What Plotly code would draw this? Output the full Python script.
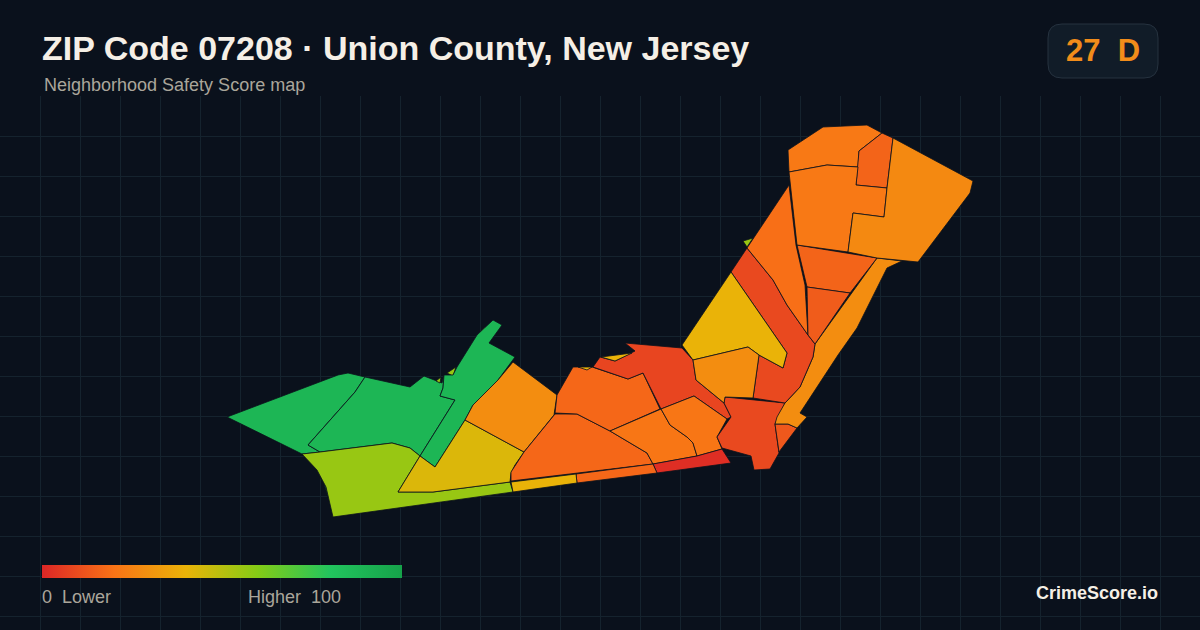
"""ZIP 07208 neighborhood safety score map card."""
import plotly.graph_objects as go
from plotly.colors import sample_colorscale

W, H, TOP = 1200, 630, 96

title_text = "ZIP Code 07208 · Union County, New Jersey"
subtitle_text = "Neighborhood Safety Score map"
badge_text = "27\u00a0\u00a0D"
brand_text = "CrimeScore.io"
legend_low = "0\u00a0\u00a0Lower"
legend_high = "Higher\u00a0\u00a0100"

score_stops = [0, 20, 40, 60, 80, 100]
score_colors = ["#dc2626", "#f97316", "#eab308", "#84cc16", "#22c55e", "#16a34a"]

tract_scores = [
    40, 56, 89, 89, 89, 89, 56, 56, 43, 28, 17, 17, 8, 40, 40, 21, 21, 2, 17, 40,
    9, 13, 28, 9, 40, 28, 19, 56, 16, 14, 22, 16, 22, 27,
]

# outlines, one per tract, back to front
tract_outlines = [
    [(478, 334), (485, 327), (487, 330), (480, 337)],
    [(447, 373), (456, 367), (453, 376)],
    [(227, 417), (338, 375), (348, 373), (365, 377), (355, 392), (308, 445), (320, 452), (302, 454)],
    [(365, 377), (410, 387), (424, 376), (442, 383), (444, 375), (443, 388), (440, 396), (455, 400),
     (420, 456), (410, 448), (392, 443), (320, 452), (308, 445), (355, 392)],
    [(493, 320), (502, 325), (489, 343), (515, 357), (498, 380), (473, 405), (465, 420), (435, 467),
     (420, 456), (455, 400), (440, 396), (443, 388), (444, 375), (453, 375), (457, 367), (477, 335)],
    [(316, 470), (324, 484), (330, 503), (326, 487)],
    [(436, 381), (441, 377), (440, 383)],
    [(302, 454), (320, 452), (392, 443), (410, 448), (420, 456), (398, 492), (413, 492), (433, 492),
     (510, 482), (513, 492), (333, 517), (330, 503), (326, 487), (317, 470)],
    [(420, 456), (435, 467), (465, 420), (524, 452), (515, 465), (511, 473), (510, 482), (433, 492),
     (413, 492), (398, 492)],
    [(513, 362), (557, 395), (554, 415), (524, 452), (465, 420), (473, 405), (498, 380)],
    [(511, 481), (511, 472), (524, 452), (553, 417), (555, 414), (577, 414), (610, 431), (647, 453), (653, 464)],
    [(573, 367), (592, 367), (628, 379), (643, 373), (660, 409), (610, 431), (577, 414), (555, 413), (557, 395)],
    [(593, 367), (600, 357), (615, 361), (635, 351), (625, 343), (682, 348), (693, 360), (696, 380),
     (724, 403), (731, 417), (727, 419), (694, 396), (661, 409), (643, 373), (628, 379)],
    [(601, 357), (615, 361), (632, 353)],
    [(578, 367), (587, 370), (592, 367)],
    [(610, 431), (661, 409), (670, 425), (687, 437), (693, 443), (697, 456), (653, 464), (647, 453)],
    [(661, 409), (694, 396), (727, 419), (717, 437), (722, 449), (697, 456), (693, 443), (687, 437), (670, 425)],
    [(653, 464), (697, 456), (722, 449), (731, 463), (657, 473)],
    [(576, 474), (653, 464), (657, 473), (577, 483)],
    [(511, 482), (576, 474), (577, 483), (513, 492)],
    [(725, 397), (785, 403), (775, 424), (779, 453), (770, 469), (754, 470), (751, 456), (722, 448),
     (717, 437), (731, 417), (724, 403)],
    [(775, 424), (788, 424), (797, 428), (779, 452)],
    [(775, 424), (777, 417), (785, 403), (800, 387), (813, 357), (815, 344), (877, 258), (902, 261),
     (887, 268), (857, 328), (838, 355), (800, 413), (807, 417), (797, 428), (788, 424)],
    [(747, 248), (731, 272), (787, 353), (783, 368), (759, 355), (753, 398), (785, 403), (800, 387),
     (813, 357), (815, 344), (808, 335), (787, 305), (773, 280)],
    [(731, 272), (682, 345), (693, 360), (748, 347), (759, 355), (783, 368), (787, 353)],
    [(693, 360), (748, 347), (759, 355), (753, 398), (725, 397), (724, 403), (696, 380)],
    [(789, 185), (747, 248), (773, 280), (787, 305), (808, 335), (805, 285), (796, 245)],
    [(743, 241), (753, 238), (747, 247)],
    [(797, 245), (877, 258), (850, 293), (807, 287)],
    [(807, 287), (850, 293), (815, 344), (808, 335)],
    [(788, 150), (823, 127), (845, 126), (867, 125), (882, 133), (859, 151), (858, 167), (827, 165), (789, 172)],
    [(882, 133), (893, 138), (887, 188), (856, 185), (859, 151)],
    [(789, 172), (827, 165), (858, 167), (856, 185), (887, 188), (884, 217), (853, 213), (848, 252), (797, 245)],
    [(893, 138), (973, 181), (970, 193), (918, 262), (877, 258), (848, 252), (853, 213), (884, 217), (887, 188)],
]

BG = "#0a111c"
GRID = "#15232e"
EDGE = "#0b121c"
TEXT = "#f5efe6"
MUTED = "#aaa69b"
ACCENT = "#f28c1a"
FONT = "Liberation Sans"


def paper_y(py):
    """Pixel row to paper y (the plot area starts below the header)."""
    return (H - py) / (H - TOP)


def label(text, x, y, size, color, anchor="left", bold=False):
    return dict(
        text=f"<b>{text}</b>" if bold else text,
        x=x / W, y=paper_y(y), xref="paper", yref="paper",
        xanchor=anchor, yanchor="middle", showarrow=False,
        borderpad=0, borderwidth=0,
        font=dict(family=FONT, size=size, color=color),
    )


colorscale = [[s / 100, c] for s, c in zip(score_stops, score_colors)]

fig = go.Figure()

for score, outline in zip(tract_scores, tract_outlines):
    xs = [p[0] for p in outline] + [outline[0][0]]
    ys = [p[1] for p in outline] + [outline[0][1]]
    fig.add_trace(go.Scatter(
        x=xs, y=ys,
        mode="lines",
        fill="toself",
        fillcolor=sample_colorscale(colorscale, score / 100)[0],
        line=dict(color=EDGE, width=0.8),
        name=f"Score {score}",
        hoverinfo="name",
        showlegend=False,
    ))

# empty trace, only here to carry the gradient bar
fig.add_trace(go.Scatter(
    x=[None], y=[None],
    mode="markers",
    showlegend=False,
    marker=dict(
        color=[0, 100], cmin=0, cmax=100, colorscale=colorscale,
        colorbar=dict(
            orientation="h", x=42 / W, xanchor="left", y=paper_y(565), yanchor="top",
            lenmode="pixels", len=360, thicknessmode="pixels", thickness=13,
            xpad=0, ypad=0, outlinewidth=0, showticklabels=False, ticks="",
        ),
    ),
))

fig.update_layout(
    width=W, height=H,
    margin=dict(l=0, r=0, t=TOP, b=0),
    paper_bgcolor=BG,
    plot_bgcolor=BG,
    font=dict(family=FONT),
    xaxis=dict(range=[0, W], tick0=0, dtick=40, showgrid=True, gridcolor=GRID, gridwidth=1,
               zeroline=False, showticklabels=False, ticks="", fixedrange=True),
    yaxis=dict(range=[H, TOP], tick0=TOP, dtick=40, showgrid=True, gridcolor=GRID, gridwidth=1,
               zeroline=False, showticklabels=False, ticks="", fixedrange=True),
    annotations=[
        label(title_text, 42, 48, 34, TEXT, bold=True),
        label(subtitle_text, 44, 85, 18, MUTED),
        label(badge_text, 1103, 51, 31, ACCENT, anchor="center", bold=True),
        label(legend_low, 42, 597, 18, MUTED),
        label(legend_high, 341, 597, 18, MUTED, anchor="right"),
        label(brand_text, 1158, 593, 18, TEXT, anchor="right", bold=True),
    ],
    shapes=[dict(
        type="path", xref="paper", yref="paper",
        path="M {l},{t} L {r},{t} Q {r2},{t} {r2},{t2} L {r2},{b2} Q {r2},{b} {r},{b} L {l},{b} "
             "Q {l2},{b} {l2},{b2} L {l2},{t2} Q {l2},{t} {l},{t} Z".format(
                 l=1062 / W, r=1144 / W, l2=1048 / W, r2=1158 / W,
                 t=paper_y(24), t2=paper_y(38), b=paper_y(78), b2=paper_y(64)),
        fillcolor="#111c28", line=dict(color="#26323f", width=1),
    )],
)

# the page's default body margin would shift the whole card by 8px
fig.write_html(
    "out.html",
    config=dict(displayModeBar=False),
    post_script="document.body.style.margin='0';document.body.style.background='#0a111c';",
)
